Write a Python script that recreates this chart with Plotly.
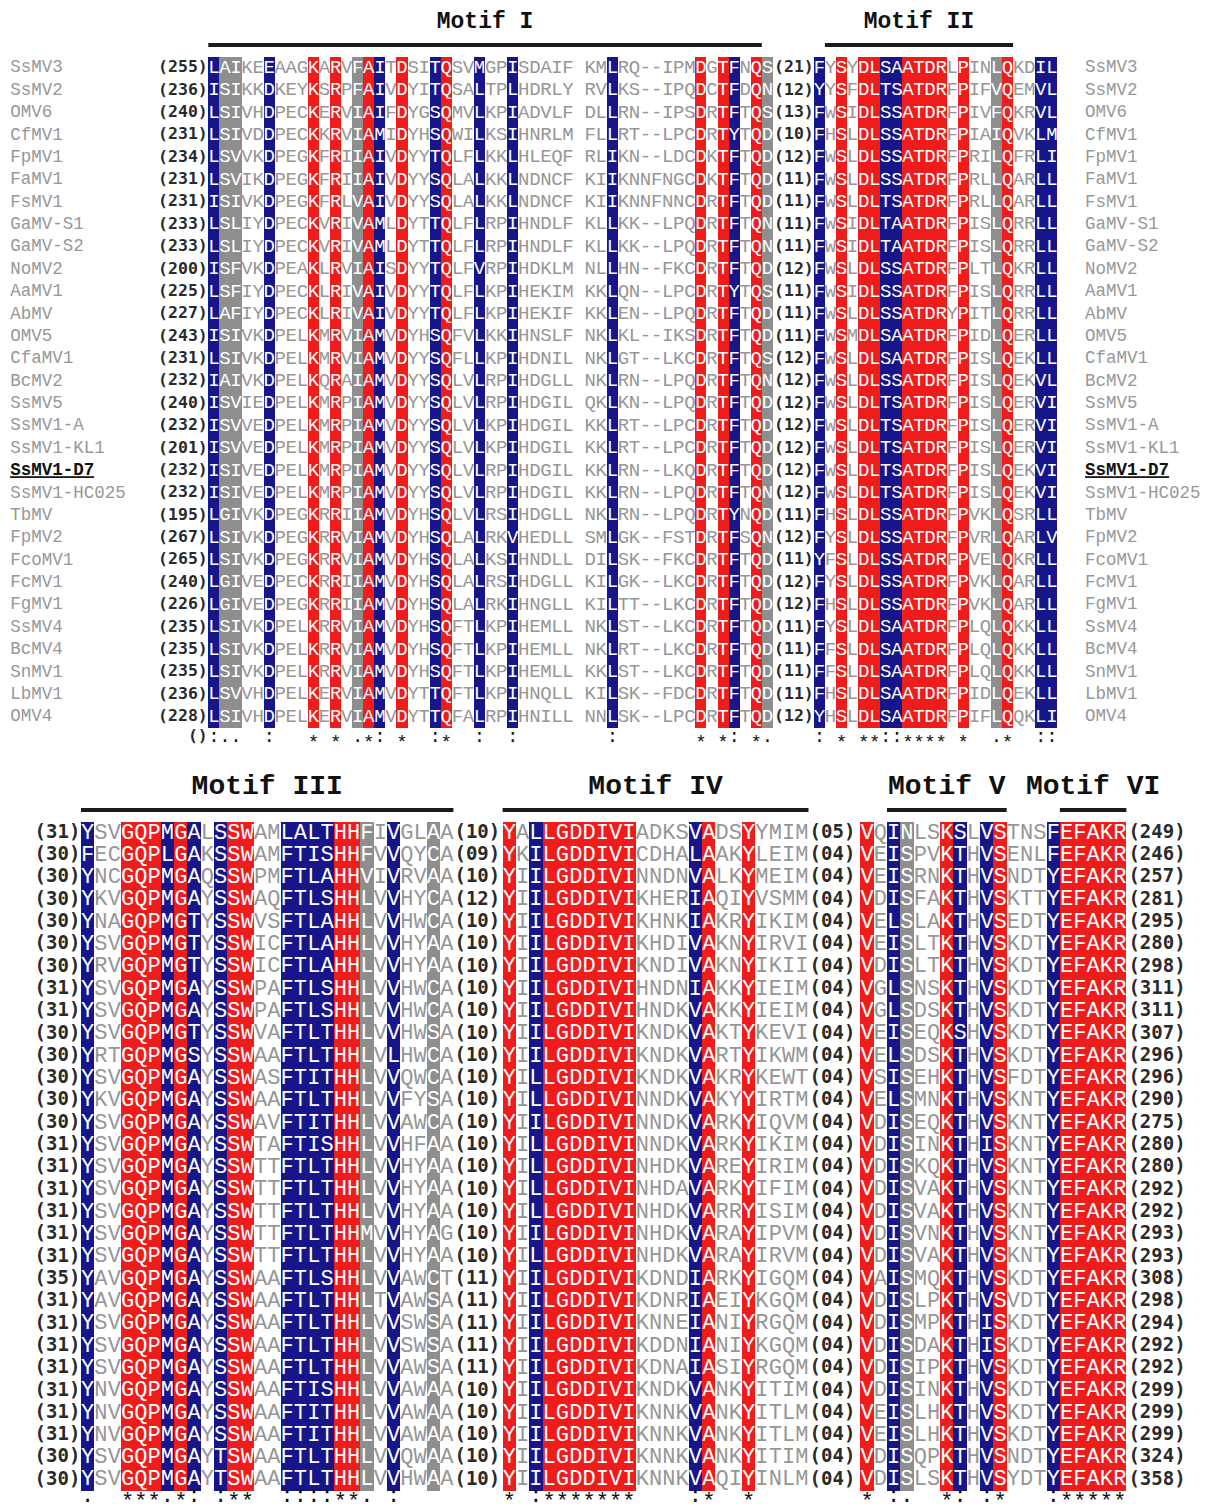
import plotly.graph_objects as go

# ---------------- data ----------------
names = ["SsMV3", "SsMV2", "OMV6", "CfMV1", "FpMV1", "FaMV1", "FsMV1", "GaMV-S1", "GaMV-S2", "NoMV2",
         "AaMV1", "AbMV", "OMV5", "CfaMV1", "BcMV2", "SsMV5", "SsMV1-A", "SsMV1-KL1", "SsMV1-D7", "SsMV1-HC025",
         "TbMV", "FpMV2", "FcoMV1", "FcMV1", "FgMV1", "SsMV4", "BcMV4", "SnMV1", "LbMV1", "OMV4"]
highlight_name = "SsMV1-D7"

top_start = [255, 236, 240, 231, 234, 231, 231, 233, 233, 200, 225, 227, 243, 231, 232,
             240, 232, 201, 232, 232, 195, 267, 265, 240, 226, 235, 235, 235, 236, 228]
top_seg1 = [
    "LAIKEEAAGKARVFAITDSITQSVMGPISDAIF KMLRQ--IPMDGTFNQS",
    "ISIKKDKEYKSRPFAIVDYITQSALTPLHDRLY RVLKS--IPQDCTFDQN",
    "LSIVHDPECKERVIAIFDYGSQMVLKPIADVLF DLLRN--IPSDRTFTQS",
    "LSIVDDPECKKRVIAMIDYHSQWILKSIHNRLM FLLRT--LPCDRTYTQD",
    "LSVVKDPEGKFRIIAIVDYYTQLFLKKLHLEQF RLIKN--LDCDKTFTQD",
    "LSVIKDPEGKFRIIAIVDYYSQLALKKLNDNCF KIIKNNFNGCDKTFTQD",
    "ISIVKDPEGKFRLVAIVDYYSQLALKKLNDNCF KIIKNNFNNCDRTFTQD",
    "LSLIYDPECKVRIVAMLDYTTQLFLRPIHNDLF KLLKK--LPQDRTFTQN",
    "LSLIYDPECKVRIVAMLDYTTQLFLRPIHNDLF KLLKK--LPQDRTFTQN",
    "ISFVKDPEAKLRVIAISDYYTQLFVRPIHDKLM NLLHN--FKCDRTFTQD",
    "LSFIYDPECKLRIVAIVDYYTQLFLKPIHEKIM KKLQN--LPCDRTYTQS",
    "LAFIYDPECKLRIVAIVDYYTQLFLKPIHEKIF KKLEN--LPQDRTFTQD",
    "ISIVKDPELKMRVIAMVDYHSQFVLKKIHNSLF NKLKL--IKSDRTFTQD",
    "LSIVKDPELKMRVIAMVDYYSQFLLKPIHDNIL NKLGT--LKCDRTFTQS",
    "IAIVKDPELKQRAIAMVDYYSQLVLRPIHDGLL NKLRN--LPQDRTFTQN",
    "ISVIEDPELKMRPIAMVDYYSQLVLRPIHDGIL QKLKN--LPQDRTFTQD",
    "ISVVEDPELKMRPIAMVDYYSQLVLKPIHDGIL KKLRT--LPCDRTFTQD",
    "ISVVEDPELKMRPIAMVDYYSQLVLKPIHDGIL KKLRT--LPCDRTFTQD",
    "ISIVEDPELKMRPIAMVDYYSQLVLRPIHDGIL KKLRN--LKQDRTFTQD",
    "ISIVEDPELKMRPIAMVDYYSQLVLRPIHDGIL KKLRN--LPQDRTFTQN",
    "LGIVKDPEGKRRIIAMVDYHSQLVLRSIHDGLL NKLRN--LPQDRTYNQD",
    "LSIVKDPEGKRRVIAMVDYHSQLALRKVHEDLL SMLGK--FSTDRTFSQN",
    "LSIVKDPEGKRRVIAMVDYHSQLALKSIHNDLL DILSK--FKCDRTFTQD",
    "LGIVEDPECKRRIIAMVDYHSQLALRSIHDGLL KILGK--LKCDRTFTQD",
    "LGIVEDPEGKRRIIAMVDYHSQLALRKIHNGLL KILTT--LKCDRTFTQD",
    "LSIVKDPELKRRVIAMVDYHSQFTLKPIHEMLL NKLST--LKCDRTFTQD",
    "LSIVKDPELKRRVIAMVDYHSQFTLKPIHEMLL NKLRT--LKCDRTFTQD",
    "LSIVKDPELKRRVIAMVDYHSQFTLKPIHEMLL KKLST--LKCDRTFTQD",
    "LSVVHDPELKERVIAMVDYTTQFTLKPIHNQLL KILSK--FDCDRTFTQD",
    "LSIVHDPELKERVIAMVDYTTQFALRPIHNILL NNLSK--LPCDRTFTQD",
]
top_gap = [21, 12, 13, 10, 12, 11, 11, 11, 11, 12, 11, 11, 11, 12, 12,
           12, 12, 12, 12, 12, 11, 12, 11, 12, 12, 11, 11, 11, 11, 12]
top_seg2 = [
    "FYSYDLSAATDRLPINLQKDIL", "YYSFDLTSATDRFPIFVQEMVL", "FWSIDLSSATDRFPIVFQKRVL",
    "FHSLDLSSATDRFPIAIQVKLM", "FWSLDLSSATDRFPRILQFRLI", "FWSLDLSSATDRFPRLLQARLL",
    "FWSLDLTSATDRFPRLLQARLL", "FWSIDLTAATDRFPISLQRRLL", "FWSIDLTAATDRFPISLQRRLL",
    "FWSLDLSSATDRFPLTLQKRLL", "FWSIDLSSATDRFPISLQRRLL", "FWSLDLSSATDRYPITLQRRLL",
    "FWSMDLSAATDRFPIDLQERLL", "FWSLDLSAATDRFPISLQEKLL", "FWSLDLSSATDRFPISLQEKVL",
    "FWSLDLTSATDRFPISLQERVI", "FWSLDLTSATDRFPISLQERVI", "FWSLDLTSATDRFPISLQERVI",
    "FWSLDLTSATDRFPISLQEKVI", "FWSLDLTSATDRFPISLQEKVI", "FHSLDLSSATDRFPVKLQSRLL",
    "FYSLDLSSATDRFPVRLQARLV", "YFSLDLSSATDRFPVELQKRLL", "FYSLDLSSATDRFPVKLQARLL",
    "FHSLDLSSATDRFPVKLQARLL", "FYSLDLSAATDRFPLQLQKKLL", "FFSLDLSAATDRFPLQLQKKLL",
    "FFSLDLSAATDRFPLQLQKKLL", "FHSLDLSAATDRFPIDLQEKLL", "YHSLDLSAATDRFPIFLQQKLI",
]
top_cons1 = ":..  :   * * .*: *  :*  :  :" + " " * 8 + ":" + " " * 7 + "* *: *."
top_cons2 = ": * **::**** *  .*  ::"
top_shade1 = "BGG  B   R R GRB R  BR  B  B" + " " * 8 + "B" + " " * 7 + "R RB RG"
top_shade2 = "B R RRBBRRRR R  GR  BB"

bot_start = [31, 30, 30, 30, 30, 30, 30, 31, 31, 30, 30, 30, 30, 30, 31,
             31, 31, 31, 31, 31, 35, 31, 31, 31, 31, 31, 31, 31, 30, 30]
bot_seg1 = [
    "YSVGQPMGALSSWAMLALTHHFIVGLAA", "FECGQPLGAKSSWAMFTISHHFVVQYCA", "YNCGQPMGAQSSWPMFTLAHHVIVRVAA",
    "YKVGQPMGAYSSWAQFTLSHHLVVHYCA", "YNAGQPMGTYSSWVSFTLAHHLVVHWCA", "YSVGQPMGTYSSWICFTLAHHLVVHYAA",
    "YRVGQPMGTYSSWICFTLAHHLVVHYAA", "YSVGQPMGAYSSWPAFTLSHHLVVHWCA", "YSVGQPMGAYSSWPAFTLSHHLVVHWCA",
    "YSVGQPMGTYSSWVAFTLTHHLVVHWSA", "YRTGQPMGSYSSWAAFTLTHHLVLHWCA", "YSVGQPMGAYSSWASFTITHHLVVQWCA",
    "YKVGQPMGAYSSWAAFTLTHHLVVFYSA", "YSVGQPMGAYSSWAVFTITHHLVVAWCA", "YSVGQPMGAYSSWTAFTISHHLVVHFAA",
    "YSVGQPMGAYSSWTTFTLTHHLVVHYAA", "YSVGQPMGAYSSWTTFTLTHHLVVHYAA", "YSVGQPMGAYSSWTTFTLTHHLVVHYAA",
    "YSVGQPMGAYSSWTTFTLTHHMVVHYAG", "YSVGQPMGAYSSWTTFTLTHHLVVHYAA", "YAVGQPMGAYSSWAAFTLSHHLVVAWCT",
    "YAVGQPMGAYSSWAAFTLTHHLTVAWSA", "YSVGQPMGAYSSWAAFTLTHHLVVSWSA", "YSVGQPMGAYSSWAAFTLTHHLVVSWSA",
    "YSVGQPMGAYSSWAAFTLTHHLVVAWSA", "YNVGQPMGAYSSWAAFTISHHLVVAWAA", "YNVGQPMGAYSSWAAFTITHHLVVAWAA",
    "YNVGQPMGAYSSWAAFTITHHLVVAWAA", "YSVGQPMGAYTSWAAFTLTHHLVVQWAA", "YSVGQPMGAYTSWAAFTLTHHLVVHWAA",
]
bot_gap1 = [10, 9, 10, 12, 10, 10, 10, 10, 10, 10, 10, 10, 10, 10, 10,
            10, 10, 10, 10, 10, 11, 11, 11, 11, 11, 10, 10, 10, 10, 10]
bot_seg2 = [
    "YALLGDDIVIADKSVADSYYMIM", "YKILGDDIVICDHALAAKYLEIM", "YIILGDDIVINNDNVALKYMEIM",
    "YIILGDDIVIKHERIAQIYVSMM", "YIILGDDIVIKHNKIAKRYIKIM", "YIILGDDIVIKHDIVAKNYIRVI",
    "YIILGDDIVIKNDIVAKNYIKII", "YIILGDDIVIHNDNIAKKYIEIM", "YIILGDDIVIHNDKVAKKYIEIM",
    "YIILGDDIVIKNDKVAKTYKEVI", "YIILGDDIVIKNDKVARTYIKWM", "YILLGDDIVIKNDKVAKRYKEWT",
    "YILLGDDIVINNDKVAKYYIRTM", "YIILGDDIVINNDKVARKYIQVM", "YILLGDDIVINNDKVARKYIKIM",
    "YILLGDDIVINHDKVAREYIRIM", "YILLGDDIVINHDAVARKYIFIM", "YILLGDDIVINHDKVARRYISIM",
    "YIILGDDIVINHDKVARAYIPVM", "YILLGDDIVINHDKVARAYIRVM", "YIILGDDIVIKDNDIARKYIGQM",
    "YIILGDDIVIKDNRIAEIYKGQM", "YIILGDDIVIKNNEIANIYRGQM", "YIILGDDIVIKDDNIANIYKGQM",
    "YIILGDDIVIKDNAIASIYRGQM", "YIILGDDIVIKNDKVANKYITIM", "YIILGDDIVIKNNKVANKYITLM",
    "YIILGDDIVIKNNKVANKYITLM", "YIILGDDIVIKNNKVANKYITIM", "YIILGDDIVIKNNKVAQIYINLM",
]
bot_gap2 = [5, 4, 4, 4, 4, 4, 4, 4, 4, 4, 4, 4, 4, 4, 4,
            4, 4, 4, 4, 4, 4, 4, 4, 4, 4, 4, 4, 4, 4, 4]
bot_seg3 = [
    "VQINLSKSLVSTNSFEFAKR", "VEISPVKTHVSENLFEFAKR", "VEISRNKTHVSNDTYEFAKR",
    "VDISFAKTHVSKTTYEFAKR", "VELSLAKTHVSEDTYEFAKR", "VEISLTKTHVSKDTYEFAKR",
    "VDISLTKTHVSKDTYEFAKR", "VGLSNSKTHVSKDTYEFAKR", "VGLSDSKTHVSKDTYEFAKR",
    "VEISEQKSHVSKDTYEFAKR", "VELSDSKTHVSKDTYEFAKR", "VSISEHKTHVSFDTYEFAKR",
    "VELSMNKTHVSKNTYEFAKR", "VDISEQKTHVSKNTYEFAKR", "VDISINKTHISKNTYEFAKR",
    "VDISKQKTHVSKNTYEFAKR", "VDISVAKTHVSKNTYEFAKR", "VDISVAKTHVSKNTYEFAKR",
    "VDISVNKTHVSKNTYEFAKR", "VDISVAKTHVSKNTYEFAKR", "VAISMQKTHVSKDTYEFAKR",
    "VDISLPKTHVSVDTYEFAKR", "VDISMPKTHISKDTYEFAKR", "VDISDAKTHISKDTYEFAKR",
    "VDISIPKTHVSKDTYEFAKR", "VDISINKTHVSKDTYEFAKR", "VEISLHKTHVSKDTYEFAKR",
    "VEISLHKTHVSKDTYEFAKR", "VDISQPKTHVSNDTYEFAKR", "VDISLSKTHVSYDTYEFAKR",
]
bot_end = [249, 246, 257, 281, 295, 280, 298, 311, 311, 307, 296, 296, 290, 275, 280,
           280, 292, 292, 293, 293, 308, 298, 294, 292, 292, 299, 299, 299, 324, 358]
bot_cons1 = ".  ***.*: :**  ::::**. :    "
bot_cons2 = "* :*******    :*  *    "
bot_cons3 = "* :.  *: :*   :*****"
bot_shade1 = "B  RRRBRB BRR  BBBBRRG B  G "
bot_shade2 = "R BRRRRRRR    BR  R    "
bot_shade3 = "R BG  RB BR   BRRRRR"

# motifs: (label, segment index, first column, last column)
top_motifs = [("Motif I", 0, 1, 50), ("Motif II", 1, 2, 18)]
bot_motifs = [("Motif III", 0, 1, 28), ("Motif IV", 1, 1, 23), ("Motif V", 2, 3, 11), ("Motif VI", 2, 16, 20)]

# ---------------- style / layout ----------------
W, H = 1212, 1511          # page (window) size
OFF = 8                    # default body margin of the html page
FW, FH = W - 2 * OFF, H - 2 * OFF
SHADE = {"B": "#16168a", "R": "#f01c1c", "G": "#8e8e8e"}
TXT_ON = "#ffffff"
TXT_OFF = "#969696"
NAME_COL = "#979797"
NUM_COL = "#2a2a2a"
SEQ_FONT = "Liberation Mono, Courier New, monospace"
NUM_FONT = "DejaVu Sans Mono, monospace"
SPLIT = 765  # page pixel row that separates the two panels
CONS_DY = {"*": 0.28, ":": 0.0, ".": 0.0}   # glyph-specific vertical nudge (rows)

# block geometry in page pixels
TOPG = dict(x0=208.3, pitch=11.07, row0=68.0, rowp=22.38, pix=(OFF, SPLIT),
            offs=[0.0, 54.7], gaps=[52.9], lead=-0.05, lname=-17.9, rname=79.2,
            fs=19, fsn=16.5, fsname=17.5, fsh=23, cons=29.9)
BOTG = dict(x0=81.0, pitch=13.3, row0=833.0, rowp=22.31, pix=(SPLIT, H - OFF),
            offs=[0.0, 31.7, 58.6], gaps=[29.8, 56.5], lead=-0.05, end=78.75,
            fs=22, fsn=19, fsh=28, cons=29.72)

fig = go.Figure()


def axis_ranges(g):
    x0f = g["x0"] - OFF
    xr = [-x0f / g["pitch"], (FW - x0f) / g["pitch"]]
    ytop = (g["pix"][0] - g["row0"]) / g["rowp"]
    ybot = (g["pix"][1] - g["row0"]) / g["rowp"]
    return xr, [ybot, ytop]


def add_block(g, xa, ya, segs, shades, conss, lead, gaps, end, motifs, show_names):
    nrow = len(segs[0])
    # shading columns (bars spanning all rows)
    for cls, col in SHADE.items():
        xs = []
        for off, sh in zip(g["offs"], shades):
            xs += [off + i + 0.5 for i, c in enumerate(sh) if c == cls]
        fig.add_trace(go.Bar(x=xs, y=[nrow] * len(xs), base=[-0.5] * len(xs), width=1.0,
                             marker=dict(color=col, line=dict(width=0)), xaxis=xa, yaxis=ya,
                             hoverinfo="skip", showlegend=False))
    # residues
    xs, ys, ts, cs = [], [], [], []
    for off, seglist, sh in zip(g["offs"], segs, shades):
        for r, s in enumerate(seglist):
            for i, ch in enumerate(s):
                if ch == " ":
                    continue
                xs.append(off + i + 0.5)
                ys.append(r)
                ts.append(ch)
                cs.append(TXT_ON if i < len(sh) and sh[i] != " " else TXT_OFF)
    fig.add_trace(go.Scatter(x=xs, y=ys, text=ts, mode="text", textposition="middle center",
                             textfont=dict(family=SEQ_FONT, size=g["fs"], color=cs),
                             xaxis=xa, yaxis=ya, hoverinfo="skip", showlegend=False, cliponaxis=False))
    # consensus line
    xs, ys, ts = [], [], []
    for off, cons in zip(g["offs"], conss):
        for i, ch in enumerate(cons):
            if ch != " ":
                xs.append(off + i + 0.5)
                ys.append(g["cons"] + CONS_DY.get(ch, 0.0))
                ts.append(ch)
    fig.add_trace(go.Scatter(x=xs, y=ys, text=ts, mode="text",
                             textposition="middle center",
                             textfont=dict(family=SEQ_FONT, size=g["fs"], color="#111111"),
                             xaxis=xa, yaxis=ya, hoverinfo="skip", showlegend=False, cliponaxis=False))
    rows = list(range(nrow))
    numfont = dict(family=NUM_FONT, size=g["fsn"], color=NUM_COL)
    # leading numbers
    fig.add_trace(go.Scatter(x=[g["lead"]] * nrow, y=rows, text=["<b>(%d)</b>" % v for v in lead],
                             mode="text", textposition="middle left", textfont=numfont,
                             xaxis=xa, yaxis=ya, hoverinfo="skip", showlegend=False, cliponaxis=False))
    # gap numbers
    for gx, gl in zip(g["gaps"], gaps):
        fig.add_trace(go.Scatter(x=[gx] * nrow, y=rows, text=["<b>(%02d)</b>" % v for v in gl],
                                 mode="text", textposition="middle center", textfont=numfont,
                                 xaxis=xa, yaxis=ya, hoverinfo="skip", showlegend=False, cliponaxis=False))
    # trailing numbers
    if end is not None:
        fig.add_trace(go.Scatter(x=[g["end"]] * nrow, y=rows, text=["<b>(%d)</b>" % v for v in end],
                                 mode="text", textposition="middle right", textfont=numfont,
                                 xaxis=xa, yaxis=ya, hoverinfo="skip", showlegend=False, cliponaxis=False))
    # names
    if show_names:
        nt = ["<b><u>%s</u></b>" % n if n == highlight_name else n for n in names]
        nc = ["#111111" if n == highlight_name else NAME_COL for n in names]
        for nx in (g["lname"], g["rname"]):
            fig.add_trace(go.Scatter(x=[nx] * nrow, y=rows, text=nt, mode="text",
                                     textposition="middle right",
                                     textfont=dict(family=SEQ_FONT, size=g["fsname"], color=nc),
                                     xaxis=xa, yaxis=ya, hoverinfo="skip", showlegend=False,
                                     cliponaxis=False))
        fig.add_trace(go.Scatter(x=[-0.05], y=[g["cons"]], text=["<b>()</b>"], mode="text",
                                 textposition="middle left", textfont=numfont,
                                 xaxis=xa, yaxis=ya, hoverinfo="skip", showlegend=False, cliponaxis=False))
    # motif headers
    lx, ly, hx, ht = [], [], [], []
    for label, si, c0, c1 in motifs:
        a = g["offs"][si] + c0 - 1
        b = g["offs"][si] + c1
        lx += [a, b, None]
        ly += [-1.03, -1.03, None]
        hx.append((a + b) / 2)
        ht.append("<b>%s</b>" % label)
    fig.add_trace(go.Scatter(x=lx, y=ly, mode="lines", line=dict(color="#1a1a1a", width=4),
                             xaxis=xa, yaxis=ya, hoverinfo="skip", showlegend=False, cliponaxis=False))
    fig.add_trace(go.Scatter(x=hx, y=[-2.05] * len(hx), text=ht, mode="text", textposition="middle center",
                             textfont=dict(family=SEQ_FONT, size=g["fsh"], color="#111111"),
                             xaxis=xa, yaxis=ya, hoverinfo="skip", showlegend=False, cliponaxis=False))


add_block(TOPG, "x", "y", [top_seg1, top_seg2], [top_shade1, top_shade2], [top_cons1, top_cons2],
          top_start, [top_gap], None, top_motifs, True)
add_block(BOTG, "x2", "y2", [bot_seg1, bot_seg2, bot_seg3], [bot_shade1, bot_shade2, bot_shade3],
          [bot_cons1, bot_cons2, bot_cons3], bot_start, [bot_gap1, bot_gap2], bot_end, bot_motifs, False)

txr, tyr = axis_ranges(TOPG)
bxr, byr = axis_ranges(BOTG)
split_frac = 1 - (SPLIT - OFF) / FH
ax_common = dict(visible=False, showgrid=False, zeroline=False, fixedrange=True)
fig.update_layout(
    width=FW, height=FH, margin=dict(l=0, r=0, t=0, b=0),
    paper_bgcolor="white", plot_bgcolor="white",
    barmode="overlay", bargap=0, showlegend=False,
    xaxis=dict(domain=[0, 1], range=txr, anchor="y", **ax_common),
    yaxis=dict(domain=[split_frac, 1], range=tyr, anchor="x", **ax_common),
    xaxis2=dict(domain=[0, 1], range=bxr, anchor="y2", **ax_common),
    yaxis2=dict(domain=[0, split_frac], range=byr, anchor="x2", **ax_common),
)

fig.write_html("out.html")
